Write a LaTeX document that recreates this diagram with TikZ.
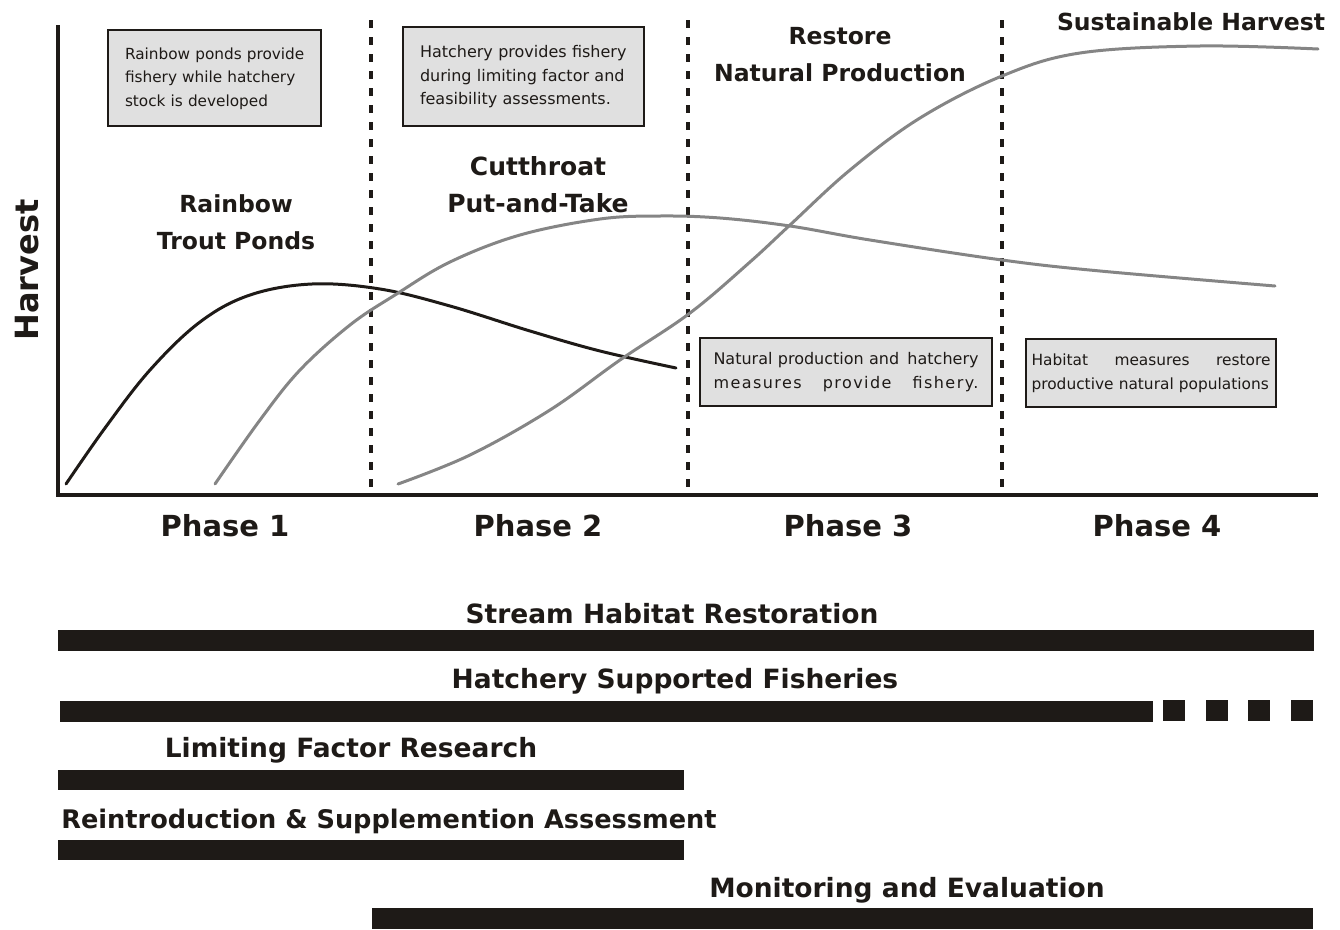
\documentclass[tikz,border=0pt]{standalone}
\usepackage{fontspec}
\setmainfont{DejaVu Sans}
\definecolor{boxgray}{HTML}{E0E0E0}
\definecolor{curvegray}{HTML}{858585}
\definecolor{ink}{HTML}{1E1A17}
\begin{document}
\begin{tikzpicture}[x=1pt,y=-1pt,
  title/.style={font=\bfseries\fontsize{23.5}{37}\selectfont, align=center, inner sep=0pt, text=ink},
  phase/.style={font=\bfseries\fontsize{29}{34}\selectfont, inner sep=0pt, text=ink},
  bartitle/.style={font=\bfseries\fontsize{26.5}{30}\selectfont, inner sep=0pt, text=ink},
  note/.style={draw=ink, line width=1.5pt, fill=boxgray, inner sep=0pt,
    font=\fontsize{16}{23.5}\selectfont, align=left, text=ink},
  phasesep/.style={line width=4pt, draw=ink, dash pattern=on 8pt off 9pt},
  axis/.style={line width=4pt, draw=ink},
  curve/.style={line width=3pt, draw=curvegray, line cap=round},
  bar/.style={fill=ink}
]
\useasboundingbox (0,0) rectangle (1340,929);

% axes
\coordinate (otop) at (58,25);
\coordinate (orig) at (58,495);
\coordinate (xend) at (1318,495);
\draw[axis] (otop) -- (orig) -- (xend);

% phase separators
\foreach \x in {371,688,1002} {
  \draw[phasesep] (\x,20) -- (\x,495);
}

% curves
\draw[curve, draw=ink] plot[smooth, tension=0.6] coordinates {(66,484) (105,428) (150,370) (200,322) (250,295) (312,284) (380,289) (450,306) (530,331) (600,351) (676,368)};
\draw[curve] plot[smooth, tension=0.6] coordinates {(215,484) (260,420) (300,370) (350,325) (395,295) (450,262) (520,235) (600,219) (660,216) (720,218) (790,226) (870,240) (1002,260) (1100,271) (1275,286)};
\draw[curve] plot[smooth, tension=0.6] coordinates {(398,484) (470,455) (550,410) (620,360) (690,313) (750,262) (790,225) (850,170) (920,118) (1002,76) (1080,53) (1200,46) (1318,49)};

% notes
\node[note, minimum width=213pt, minimum height=96pt, text width=190pt, font=\fontsize{15.3}{23.5}\selectfont] (n1) at (214.5,78)
  {\hspace*{5.5pt}\begin{tabular}{@{}l@{}}Rainbow ponds provide\\fishery while hatchery\\stock is developed\end{tabular}};
\node[note, minimum width=241pt, minimum height=99pt, text width=215pt] (n2) at (523.5,76.5)
  {\hspace*{4pt}\begin{tabular}{@{}l@{}}Hatchery provides fishery\\during limiting factor and\\feasibility assessments.\end{tabular}};
\node[note, minimum width=292pt, minimum height=68pt, text width=265pt] (n3) at (846,372)
  {\makebox[265pt][l]{Natural production and\hfill hatchery}\\\makebox[265pt][l]{\addfontfeature{LetterSpace=9}measures\hfill provide\hfill fishery.}};
\node[note, minimum width=250pt, minimum height=68pt, text width=239pt, font=\fontsize{15.4}{23.5}\selectfont] (n4) at (1151,373)
  {\makebox[239pt][l]{Habitat\hfill measures\hfill restore}\\\makebox[239pt][l]{productive natural populations}};

% curve titles
\node[title] (t1) at (236,222) {Rainbow\\Trout Ponds};
\node[title, font=\bfseries\fontsize{25}{37}\selectfont] (t2) at (538,185) {Cutthroat\\Put-and-Take};
\node[title] (t3) at (840,55) {Restore\\Natural Production};
\node[title] (t4) at (1191,22) {Sustainable Harvest};

% y label
\node[font=\bfseries\fontsize{32}{36}\selectfont, rotate=90, inner sep=0pt, text=ink] (ylab) at (27,270) {Harvest};

% phases
\node[phase] (p1) at (225,526) {Phase 1};
\node[phase] (p2) at (538,526) {Phase 2};
\node[phase] (p3) at (848,526) {Phase 3};
\node[phase] (p4) at (1157,526) {Phase 4};

% activity bars
\node[bartitle] (b1) at (672,614) {Stream Habitat Restoration};
\fill[bar] (58,630) rectangle (1314,651);
\node[bartitle] (b2) at (675,681) {Hatchery Supported Fisheries};
\fill[bar] (60,701) rectangle (1153,722);
\foreach \x in {1163,1206,1248,1291} {
  \fill[bar] (\x,700) rectangle ++(22,21);
}
\node[bartitle] (b3) at (351,750) {Limiting Factor Research};
\fill[bar] (58,770) rectangle (684,790);
\node[bartitle, font=\bfseries\fontsize{25.6}{30}\selectfont] (b4) at (389,821) {Reintroduction \& Supplemention Assessment};
\fill[bar] (58,840) rectangle (684,860);
\node[bartitle] (b5) at (907,890) {Monitoring and Evaluation};
\fill[bar] (372,908) rectangle (1313,929);
\end{tikzpicture}
\end{document}
